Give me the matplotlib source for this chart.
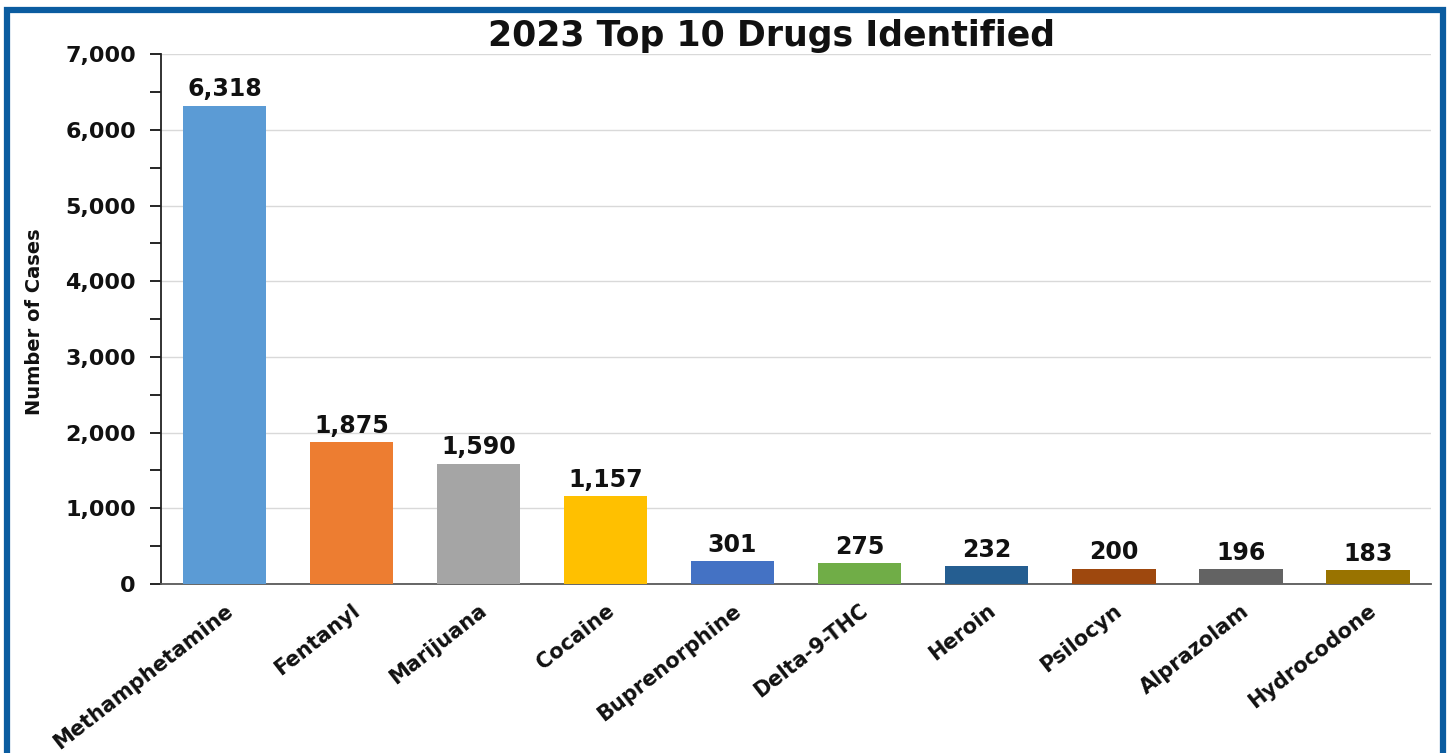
import matplotlib.pyplot as plt
from matplotlib.patches import Rectangle
from matplotlib.ticker import FuncFormatter, MultipleLocator

drugs = ["Methamphetamine", "Fentanyl", "Marijuana", "Cocaine", "Buprenorphine",
         "Delta-9-THC", "Heroin", "Psilocyn", "Alprazolam", "Hydrocodone"]
cases = [6318, 1875, 1590, 1157, 301, 275, 232, 200, 196, 183]
barColors = ["#5B9BD5", "#ED7D31", "#A5A5A5", "#FFC000", "#4472C4",
             "#70AD47", "#255E91", "#9E480E", "#636363", "#997300"]

wide = 'DejaVu Sans'
plt.rcParams['font.family'] = ['DejaVu Sans']

fig = plt.figure(figsize=(14.5, 7.53), dpi=100)
ax = fig.add_axes([0.111, 0.2245, 0.876, 0.7035])

x = range(len(drugs))
ax.bar(x, cases, width=0.66, color=barColors, zorder=3)
for i, v in enumerate(cases):
    ax.text(i, v + 60, f"{v:,}", ha='center', va='bottom', fontsize=17,
            fontweight='bold', family=wide, color='#111111')

ax.set_xlim(-0.5, len(drugs) - 0.5)
ax.set_ylim(0, 7000)
ax.yaxis.set_major_locator(MultipleLocator(1000))
ax.yaxis.set_minor_locator(MultipleLocator(500))
ax.yaxis.set_major_formatter(FuncFormatter(lambda v, p: f"{int(v):,}"))
ax.grid(axis='y', color='#D9D9D9', linewidth=1, zorder=0)

ax.set_xticks(list(x))
ax.set_xticklabels(drugs, rotation=38, ha='right', rotation_mode='anchor',
                   fontsize=15, fontweight='bold', family=wide, color='#111111')
ax.tick_params(axis='x', length=0, pad=12)
ax.tick_params(axis='y', which='both', direction='out', length=8, width=1.2,
               labelsize=16, pad=10, labelcolor='#111111')
for lbl in ax.get_yticklabels():
    lbl.set_fontweight('bold')
    lbl.set_family(wide)

for s in ['top', 'right']:
    ax.spines[s].set_visible(False)
ax.spines['left'].set_color('#222222')
ax.spines['left'].set_linewidth(1.3)
ax.spines['bottom'].set_color('#595959')
ax.spines['bottom'].set_linewidth(1.3)

fig.text(0.024, 1 - 322 / 753, "Number of Cases", rotation=90, ha='center', va='center',
         fontsize=14, fontweight='bold', family=wide, color='#111111')
fig.text(0.532, 0.952, "2023 Top 10 Drugs Identified", ha='center', va='center',
         fontsize=25, fontweight='bold', family=wide, color='#111111')

# blue frame around the whole chart
fig.patches.append(Rectangle((7 / 1450, -0.05), 1436 / 1450, 1.05 - 10 / 753,
                             transform=fig.transFigure, fill=False,
                             edgecolor='#0B5CA0', linewidth=4.5))

fig.savefig("out.png", dpi=100)
